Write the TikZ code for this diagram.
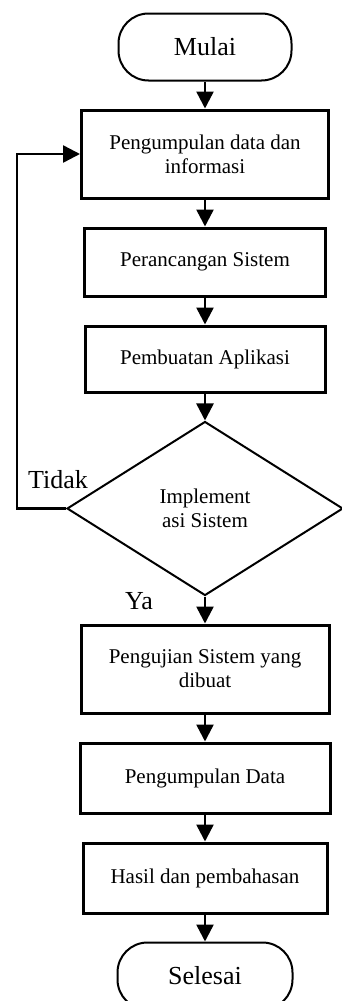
\documentclass[tikz,border=0pt]{standalone}
\usepackage{fontspec}
\setmainfont{Liberation Serif}
\usetikzlibrary{arrows.meta,positioning,shapes.geometric}

\begin{document}
\begin{tikzpicture}[
  x=1pt, y=1pt,
  node distance=27pt,
  terminal/.style={draw, line width=2pt, rounded corners=30pt, minimum width=173pt,
                   minimum height=67pt, font=\fontsize{26}{30}\selectfont},
  box/.style={draw, line width=3pt, align=center, inner sep=0pt,
              font=\fontsize{21}{24}\selectfont},
  decision/.style={draw, diamond, line width=2pt, align=center, inner sep=0pt,
                   minimum width=276pt, minimum height=174pt,
                   font=\fontsize{21}{24}\selectfont},
  lbl/.style={inner sep=0pt, font=\fontsize{26}{30}\selectfont},
  arr/.style={line width=2.5pt, -{Triangle[length=17pt,width=17pt]}}
]
\useasboundingbox (0,0) rectangle (341,-1001);
\node[terminal] (mulai) at (205,-47) {Mulai};
\node[box, below=of mulai, minimum width=247pt, minimum height=88pt] (kumpul)
  {Pengumpulan data dan\\informasi};
\node[box, below=of kumpul, minimum width=241pt, minimum height=68pt] (rancang)
  {Perancangan Sistem};
\node[box, below=of rancang, minimum width=240pt, minimum height=66pt] (buat)
  {Pembuatan Aplikasi};
\node[decision, below=of buat] (impl) {Implement\\asi Sistem};
\node[box, below=of impl, minimum width=248pt, minimum height=88pt] (uji)
  {Pengujian Sistem yang\\dibuat};
\node[box, below=of uji, minimum width=250pt, minimum height=70pt] (data)
  {Pengumpulan Data};
\node[box, below=of data, minimum width=244pt, minimum height=70pt] (hasil)
  {Hasil dan pembahasan};
\node[terminal, below=of hasil, minimum width=175pt] (selesai) {Selesai};

% label keputusan
\node[lbl, above=20pt of impl.west, xshift=-8pt] (tidak) {Tidak};
\node[lbl, anchor=base] (ya) at ([shift={(-66pt,-13pt)}]impl.south) {Ya};

\draw[arr] (mulai) -- (kumpul);
\draw[arr] (kumpul) -- (rancang);
\draw[arr] (rancang) -- (buat);
\draw[arr] (buat) -- (impl);
\draw[arr] (impl) -- (uji);
\draw[arr] (uji) -- (data);
\draw[arr] (data) -- (hasil);
\draw[arr] (hasil) -- (selesai);
\draw[arr] (impl.west) -- ++(-49pt,0) |- (kumpul.west);
\end{tikzpicture}
\end{document}
